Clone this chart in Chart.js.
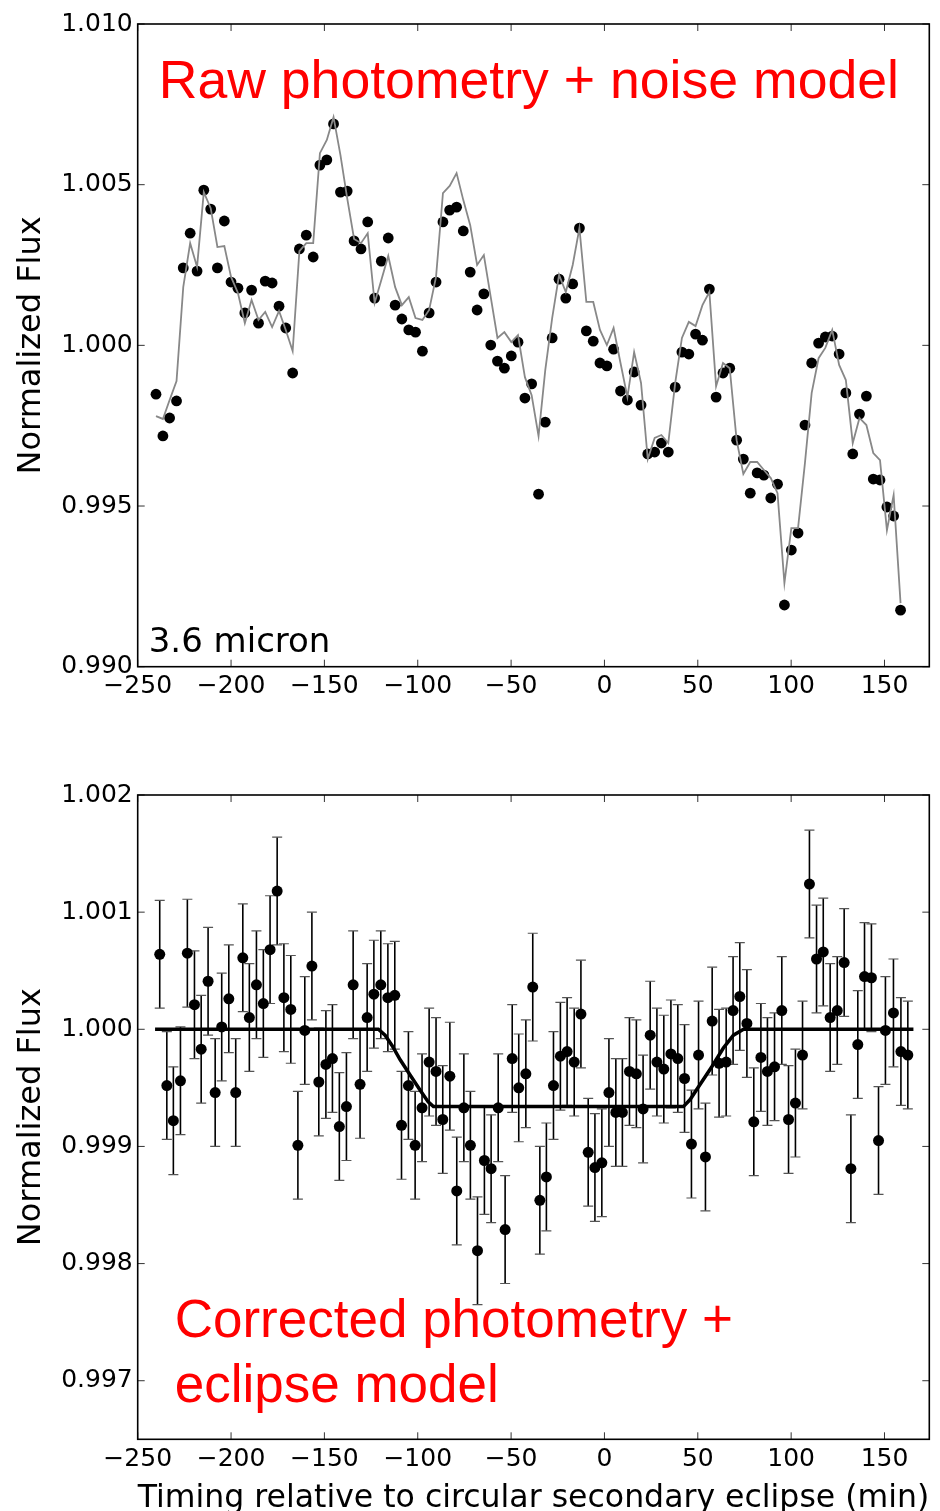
<!DOCTYPE html>
<html>
<head>
<meta charset="utf-8">
<script src="https://cdn.jsdelivr.net/npm/chart.js@4.4.1/dist/chart.umd.min.js"></script>
<style>
body{margin:0;background:#fff;width:940px;height:1511px;overflow:hidden;position:relative}
canvas{position:absolute;left:0}
#top{top:0}
#bot{top:760px}
</style>
</head>
<body>
<canvas id="top" width="940" height="720"></canvas>
<canvas id="bot" width="940" height="751"></canvas>
<script>
// --- raw photometry, 3.6 micron (top panel)
const rawTime = [-240.2,-236.5,-232.9,-229.2,-225.6,-221.9,-218.2,-214.6,-210.9,-207.3,
  -203.6,-200.0,-196.3,-192.6,-189.0,-185.3,-181.7,-178.0,-174.3,-170.7,
  -167.0,-163.4,-159.7,-156.0,-152.4,-148.7,-145.1,-141.4,-137.8,-134.1,
  -130.4,-126.8,-123.1,-119.5,-115.8,-112.1,-108.5,-104.8,-101.2,-97.5,
  -93.9,-90.2,-86.5,-82.9,-79.2,-75.6,-71.9,-68.2,-64.6,-60.9,
  -57.3,-53.6,-49.9,-46.3,-42.6,-39.0,-35.3,-31.7,-28.0,-24.3,
  -20.7,-17.0,-13.4,-9.7,-6.0,-2.4,1.3,4.9,8.6,12.3,
  15.9,19.6,23.2,26.9,30.5,34.2,37.9,41.5,45.2,48.8,
  52.5,56.2,59.8,63.5,67.1,70.8,74.4,78.1,81.8,85.4,
  89.1,92.7,96.4,100.1,103.7,107.4,111.0,114.7,118.3,122.0,
  125.7,129.3,133.0,136.6,140.3,144.0,147.6,151.3,154.9,158.6];
const rawFlux = [0.99848,0.99718,0.99774,0.99827,1.00241,1.00349,1.00231,1.00483,1.00424,1.00241,
  1.00387,1.00197,1.00178,1.00101,1.00172,1.00069,1.00200,1.00194,1.00122,1.00054,
  0.99914,1.00300,1.00343,1.00275,1.00561,1.00577,1.00689,1.00477,1.00480,1.00325,
  1.00300,1.00384,1.00147,1.00262,1.00334,1.00125,1.00082,1.00048,1.00041,0.99982,
  1.00101,1.00197,1.00384,1.00421,1.00430,1.00356,1.00228,1.00110,1.00160,1.00001,
  0.99951,0.99929,0.99967,1.00010,0.99836,0.99880,0.99537,0.99761,1.00023,1.00206,
  1.00147,1.00191,1.00365,1.00045,1.00013,0.99945,0.99936,0.99988,0.99858,0.99830,
  0.99917,0.99814,0.99662,0.99668,0.99696,0.99668,0.99870,0.99979,0.99973,1.00035,
  1.00016,1.00175,0.99839,0.99914,0.99929,0.99705,0.99646,0.99540,0.99603,0.99596,
  0.99525,0.99568,0.99192,0.99363,0.99416,0.99752,0.99945,1.00007,1.00026,1.00029,
  0.99973,0.99852,0.99662,0.99786,0.99842,0.99584,0.99581,0.99497,0.99469,0.99176];
const noiseModel = [0.99780,0.99771,0.99830,0.99889,1.00181,1.00318,1.00244,1.00477,1.00427,1.00306,
  1.00309,1.00213,1.00163,1.00069,1.00141,1.00079,1.00104,1.00057,1.00107,1.00048,
  0.99982,1.00293,1.00318,1.00318,1.00598,1.00639,1.00710,1.00592,1.00458,1.00331,
  1.00318,1.00349,1.00132,1.00203,1.00278,1.00181,1.00125,1.00150,1.00085,1.00079,
  1.00110,1.00213,1.00474,1.00496,1.00536,1.00452,1.00374,1.00250,1.00281,1.00150,
  1.00023,1.00041,1.00010,1.00032,0.99901,0.99845,0.99718,0.99923,1.00085,1.00219,
  1.00166,1.00250,1.00365,1.00135,1.00135,1.00048,1.00001,1.00054,0.99945,0.99839,
  0.99979,0.99883,0.99646,0.99712,0.99721,0.99696,0.99883,1.00023,1.00073,1.00060,
  1.00125,1.00166,0.99873,0.99945,0.99929,0.99705,0.99600,0.99637,0.99637,0.99612,
  0.99587,0.99540,0.99260,0.99431,0.99431,0.99634,0.99852,0.99960,0.99992,1.00048,
  0.99939,0.99892,0.99696,0.99774,0.99752,0.99665,0.99643,0.99425,0.99534,0.99198];

// --- corrected photometry (bottom panel)
const corTime = [-238.2,-234.4,-230.9,-227.1,-223.4,-219.6,-216.0,-212.3,-208.5,-205.0,
  -201.2,-197.5,-193.7,-190.2,-186.4,-182.7,-179.1,-175.3,-171.7,-168.0,
  -164.2,-160.5,-156.7,-153.0,-149.2,-145.7,-142.0,-138.2,-134.6,-130.9,
  -127.1,-123.5,-119.8,-116.0,-112.3,-108.7,-105.0,-101.4,-97.7,-93.9,
  -90.2,-86.6,-82.8,-79.1,-75.3,-71.8,-68.0,-64.3,-60.7,-56.9,
  -53.2,-49.4,-45.9,-42.1,-38.4,-34.6,-31.1,-27.3,-23.6,-20.0,
  -16.2,-12.6,-8.7,-5.1,-1.4,2.4,6.1,9.6,13.4,17.1,
  20.7,24.5,28.1,31.8,35.6,39.3,42.9,46.6,50.4,54.1,
  57.7,61.4,65.2,68.9,72.5,76.3,80.0,83.8,87.3,91.1,
  95.0,98.6,102.3,106.1,109.8,113.6,117.2,120.9,124.7,128.4,
  132.0,135.7,139.3,143.0,146.8,150.5,154.8,158.8,162.5];
const corFlux = [1.00064,0.99952,0.99922,0.99956,1.00065,1.00021,0.99983,1.00041,0.99946,1.00002,
  1.00026,0.99946,1.00061,1.00010,1.00038,1.00022,1.00068,1.00118,1.00027,1.00017,
  0.99901,0.99999,1.00054,0.99955,0.99970,0.99975,0.99917,0.99934,1.00038,0.99953,
  1.00010,1.00030,1.00038,1.00027,1.00029,0.99918,0.99952,0.99901,0.99933,0.99972,
  0.99964,0.99923,0.99960,0.99862,0.99933,0.99901,0.99811,0.99888,0.99881,0.99933,
  0.99829,0.99975,0.99950,0.99962,1.00036,0.99854,0.99874,0.99952,0.99977,0.99981,
  0.99972,1.00013,0.99895,0.99882,0.99886,0.99946,0.99929,0.99929,0.99964,0.99962,
  0.99932,0.99995,0.99972,0.99966,0.99979,0.99975,0.99958,0.99902,0.99978,0.99891,
  1.00007,0.99971,0.99972,1.00016,1.00028,1.00005,0.99921,0.99976,0.99964,0.99968,
  1.00016,0.99923,0.99937,0.99978,1.00124,1.00060,1.00066,1.00010,1.00016,1.00057,
  0.99881,0.99987,1.00045,1.00044,0.99905,0.99999,1.00014,0.99981,0.99978];
const corErr = 0.00046;
const eclTime = [-240.7,-121.1,-117.5,-113.7,-109.4,-104.1,-98.7,-94.4,-91.6,
  42.3,45.9,50.4,57.5,63.7,69.1,74.5,165.5];
const eclFlux = [1.00000,1.00000,0.99995,0.99986,0.99974,0.99961,0.99948,0.99938,0.99934,
  0.99934,0.99940,0.99951,0.99968,0.99984,0.99995,1.00000,1.00000];

const xTicks = [-250,-200,-150,-100,-50,0,50,100,150];
const yTicksTop = [0.990,0.995,1.000,1.005,1.010];
const yTicksBot = [0.997,0.998,0.999,1.000,1.001,1.002];

const pts = (xs, ys) => xs.map((x, i) => ({x: x, y: ys[i]}));
const minus = v => (v < 0 ? '\u2212' : '') + Math.abs(v);

// box round the plot with inward ticks on all four sides
const framePlugin = {
  id: 'frame',
  afterDraw(chart) {
    const {ctx, chartArea: a, scales} = chart;
    ctx.save();
    ctx.strokeStyle = '#333';
    ctx.lineWidth = 1;
    const L = 7;
    scales.x.ticks.forEach(t => {
      const px = scales.x.getPixelForValue(t.value);
      ctx.beginPath();
      ctx.moveTo(px, a.bottom); ctx.lineTo(px, a.bottom - L);
      ctx.moveTo(px, a.top); ctx.lineTo(px, a.top + L);
      ctx.stroke();
    });
    scales.y.ticks.forEach(t => {
      const py = scales.y.getPixelForValue(t.value);
      ctx.beginPath();
      ctx.moveTo(a.left, py); ctx.lineTo(a.left + L, py);
      ctx.moveTo(a.right, py); ctx.lineTo(a.right - L, py);
      ctx.stroke();
    });
    ctx.strokeStyle = '#000';
    ctx.lineWidth = 1.6;
    ctx.strokeRect(a.left, a.top, a.right - a.left, a.bottom - a.top);
    ctx.restore();
  }
};

// vertical error bars with caps, drawn under the dots
const errPlugin = {
  id: 'errbars',
  beforeDatasetsDraw(chart, args, opts) {
    if (!opts.err) return;
    const {ctx, scales} = chart;
    const ds = chart.data.datasets[opts.dataset];
    ctx.save();
    ds.data.forEach(p => {
      const x = scales.x.getPixelForValue(p.x);
      const y1 = scales.y.getPixelForValue(p.y - opts.err);
      const y2 = scales.y.getPixelForValue(p.y + opts.err);
      ctx.strokeStyle = '#000';
      ctx.lineWidth = 1.6;
      ctx.beginPath(); ctx.moveTo(x, y1); ctx.lineTo(x, y2); ctx.stroke();
      ctx.strokeStyle = '#555';
      ctx.lineWidth = 1.2;
      ctx.beginPath();
      ctx.moveTo(x - 5, y1); ctx.lineTo(x + 5, y1);
      ctx.moveTo(x - 5, y2); ctx.lineTo(x + 5, y2);
      ctx.stroke();
    });
    ctx.restore();
  }
};

// text labels inside the panels
const notePlugin = {
  id: 'notes',
  afterDraw(chart, args, opts) {
    const {ctx, chartArea: a} = chart;
    ctx.save();
    ctx.textBaseline = 'alphabetic';
    ctx.textAlign = 'left';
    (opts.items || []).forEach(n => {
      ctx.font = n.font;
      ctx.fillStyle = n.color;
      ctx.fillText(n.text, a.left + n.dx, a.top + n.dy);
    });
    ctx.restore();
  }
};

function makePanel(id, cfg) {
  return new Chart(document.getElementById(id), {
    type: 'scatter',
    data: {datasets: cfg.datasets},
    options: {
      responsive: false,
      animation: false,
      devicePixelRatio: 1,
      layout: {padding: {left: 0, top: cfg.padTop, right: 10.7, bottom: 0}},
      plugins: {
        legend: {display: false},
        tooltip: {enabled: false},
        errbars: cfg.errbars || {},
        notes: {items: cfg.notes}
      },
      scales: {
        x: {
          type: 'linear', min: -250, max: 174,
          grid: {display: false, drawTicks: false},
          border: {display: false},
          afterBuildTicks: s => { s.ticks = xTicks.map(v => ({value: v})); },
          afterFit: s => { s.height = cfg.xHeight; s.paddingLeft = 0; s.paddingRight = 0; },
          ticks: {
            color: '#000', padding: 5,
            font: {family: '"DejaVu Sans"', size: 25},
            callback: v => minus(v)
          },
          title: cfg.xTitle ? {
            display: true, text: cfg.xTitle, color: '#000',
            font: {family: '"DejaVu Sans"', size: 32, lineHeight: 0.8},
            padding: {top: 0, bottom: 0}
          } : {display: false}
        },
        y: {
          type: 'linear', min: cfg.yMin, max: cfg.yMax,
          grid: {display: false, drawTicks: false},
          border: {display: false},
          afterBuildTicks: s => { s.ticks = cfg.yTicks.map(v => ({value: v})); },
          afterFit: s => { s.width = 137.7; s.paddingTop = 0; s.paddingBottom = 0; },
          ticks: {
            color: '#000', padding: 5,
            font: {family: '"DejaVu Sans"', size: 25},
            callback: v => v.toFixed(3)
          },
          title: {
            display: true, text: 'Normalized Flux', color: '#000',
            font: {family: '"DejaVu Sans"', size: 32, lineHeight: 1},
            padding: {top: 16, bottom: 0}
          }
        }
      }
    },
    plugins: [errPlugin, framePlugin, notePlugin]
  });
}

makePanel('top', {
  padTop: 24, xHeight: 53.3,
  yMin: 0.990, yMax: 1.010, yTicks: yTicksTop,
  datasets: [
    {type: 'line', data: pts(rawTime, noiseModel), borderColor: '#888', borderWidth: 1.8,
     pointRadius: 0, fill: false, tension: 0},
    {data: pts(rawTime, rawFlux), pointRadius: 5.4, pointBackgroundColor: '#000',
     pointBorderWidth: 0, borderColor: '#000'}
  ],
  notes: [
    {text: 'Raw photometry + noise model', dx: 21, dy: 74, color: '#ff0000', font: '53.6px "Liberation Sans"'},
    {text: '3.6 micron', dx: 11, dy: 627.7, color: '#000', font: '34px "DejaVu Sans"'}
  ]
});

makePanel('bot', {
  padTop: 35, xHeight: 71.7,
  yMin: 0.9965, yMax: 1.002, yTicks: yTicksBot,
  xTitle: 'Timing relative to circular secondary eclipse (min)',
  errbars: {err: corErr, dataset: 1},
  datasets: [
    {type: 'line', data: pts(eclTime, eclFlux), borderColor: '#000', borderWidth: 3.5,
     pointRadius: 0, fill: false, tension: 0},
    {data: pts(corTime, corFlux), pointRadius: 5.5, pointBackgroundColor: '#000',
     pointBorderWidth: 0, borderColor: '#000'}
  ],
  notes: [
    {text: 'Corrected photometry +', dx: 37, dy: 541.7, color: '#ff0000', font: '53px "Liberation Sans"'},
    {text: 'eclipse model', dx: 37, dy: 606.7, color: '#ff0000', font: '53px "Liberation Sans"'}
  ]
});
</script>
</body>
</html>
